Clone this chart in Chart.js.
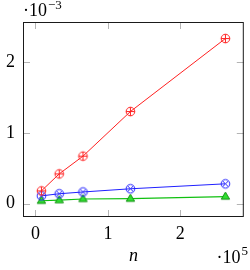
<!DOCTYPE html>
<html><head><meta charset="utf-8">
<script src="https://cdn.jsdelivr.net/npm/chart.js@4/dist/chart.umd.min.js"></script>
<style>html,body{margin:0;padding:0;background:#fff}#wrap{width:250px;height:270px;position:relative}</style>
</head><body><div id="wrap"><canvas id="c" width="250" height="270"></canvas></div>
<script>
// ---- data ----
const nValues = [8192, 32768, 65536, 131072, 262144];
const redSeries = [0.00018, 0.00042, 0.00067, 0.00130, 0.00233];
const blueSeries = [0.00011, 0.00014, 0.000165, 0.00021, 0.00028];
const greenSeries = [0.000041, 0.00005, 0.000066, 0.00007, 0.00010];
const xTickValues = [0, 100000, 200000];
const yTickValues = [0, 0.001, 0.002];
const xTickLabels = ['0', '1', '2'];
const yTickLabels = ['0', '1', '2'];
const xAxisTitle = 'n';
const xMultiplierExp = '5';
const yMultiplierExp = '\u22123';

const SERIF = "'Liberation Serif', 'DejaVu Serif', serif";

function makeMarker(kind, stroke, fill) {
  const s = 13, m = 6.5, r = 4.3;
  const c = document.createElement('canvas');
  c.width = s; c.height = s;
  const g = c.getContext('2d');
  g.strokeStyle = stroke; g.lineWidth = 1;
  if (kind === 'oplus' || kind === 'otimes') {
    g.beginPath(); g.arc(m, m, r, 0, Math.PI * 2); g.stroke();
    g.beginPath();
    if (kind === 'oplus') {
      g.moveTo(m - r, m); g.lineTo(m + r, m);
      g.moveTo(m, m - r); g.lineTo(m, m + r);
    } else {
      const d = r * Math.SQRT1_2;
      g.moveTo(m - d, m - d); g.lineTo(m + d, m + d);
      g.moveTo(m - d, m + d); g.lineTo(m + d, m - d);
    }
    g.stroke();
  } else {
    g.fillStyle = fill;
    g.beginPath();
    g.moveTo(m, m - 4.5); g.lineTo(m - 4.2, m + 2.6); g.lineTo(m + 4.2, m + 2.6); g.closePath();
    g.fill(); g.stroke();
  }
  return c;
}

function toPoints(ys) { return nValues.map((x, i) => ({x: x, y: ys[i]})); }

const tickPlugin = {
  id: 'pgfTicks',
  beforeDatasetsDraw(chart) {
    const ctx = chart.ctx, a = chart.chartArea;
    const xs = chart.scales.x, ys = chart.scales.y;
    const L = 7;
    ctx.save();
    ctx.strokeStyle = '#b4b4b4'; ctx.lineWidth = 1;
    ctx.beginPath();
    xTickValues.forEach(v => {
      const px = Math.round(xs.getPixelForValue(v)) + 0.5;
      ctx.moveTo(px, a.bottom); ctx.lineTo(px, a.bottom - L);
      ctx.moveTo(px, a.top); ctx.lineTo(px, a.top + L);
    });
    yTickValues.forEach(v => {
      const py = Math.round(ys.getPixelForValue(v)) + 0.5;
      ctx.moveTo(a.left, py); ctx.lineTo(a.left + L, py);
      ctx.moveTo(a.right, py); ctx.lineTo(a.right - L, py);
    });
    ctx.stroke();
    ctx.restore();
  },
  afterDraw(chart) {
    const ctx = chart.ctx, a = chart.chartArea;
    ctx.save();
    ctx.strokeStyle = '#1a1a1a'; ctx.lineWidth = 1;
    ctx.strokeRect(a.left + 0.5, a.top + 0.5, a.right - a.left - 1, a.bottom - a.top - 1);
    ctx.fillStyle = '#000';
    ctx.textBaseline = 'alphabetic';
    // y multiplier (top-left)
    ctx.textAlign = 'left';
    ctx.font = '18px ' + SERIF;
    const base = '\u00B710';
    ctx.fillText(base, 23, 16);
    let w = ctx.measureText(base).width;
    ctx.font = '13px ' + SERIF;
    ctx.fillText(yMultiplierExp, 23 + w + 1, 9);
    // x multiplier (bottom-right)
    ctx.font = '13px ' + SERIF;
    const ew = ctx.measureText(xMultiplierExp).width;
    ctx.fillText(xMultiplierExp, 248 - ew, 255);
    ctx.font = '18px ' + SERIF;
    const bw = ctx.measureText(base).width;
    ctx.fillText(base, 248 - ew - 1 - bw, 263);
    ctx.restore();
  }
};

new Chart(document.getElementById('c'), {
  type: 'scatter',
  data: {
    datasets: [
      {data: toPoints(redSeries), showLine: true, borderColor: '#ff2020', borderWidth: 1,
       pointStyle: makeMarker('oplus', '#ff2020'), pointRadius: 5},
      {data: toPoints(blueSeries), showLine: true, borderColor: '#2020ff', borderWidth: 1,
       pointStyle: makeMarker('otimes', '#2020ff'), pointRadius: 5},
      {data: toPoints(greenSeries), showLine: true, borderColor: '#10c010', borderWidth: 1.2,
       pointStyle: makeMarker('tri', '#109010', '#30e030'), pointRadius: 5}
    ]
  },
  options: {
    responsive: false,
    animation: false,
    devicePixelRatio: 1,
    layout: {padding: {top: 22, right: 1, left: 0, bottom: 0}},
    plugins: {legend: {display: false}, tooltip: {enabled: false}},
    scales: {
      x: {
        type: 'linear', min: -17203, max: 287539,
        grid: {display: false, drawTicks: false, tickLength: 0},
        border: {display: false},
        afterBuildTicks: s => { s.ticks = xTickValues.map(v => ({value: v})); },
        ticks: {
          callback: (v) => xTickLabels[xTickValues.indexOf(v)],
          font: {family: SERIF, size: 18}, color: '#000', padding: 6,
          maxRotation: 0, autoSkip: false
        },
        title: {display: true, text: xAxisTitle, color: '#000',
          font: {family: SERIF, size: 18, style: 'italic'}, padding: {top: 0, bottom: 3}},
        afterFit: s => { s.height = 53; }
      },
      y: {
        type: 'linear', min: -0.000188, max: 0.002563,
        grid: {display: false, drawTicks: false, tickLength: 0},
        border: {display: false},
        afterBuildTicks: s => { s.ticks = yTickValues.map(v => ({value: v})); },
        ticks: {
          callback: (v) => yTickLabels[yTickValues.indexOf(v)],
          font: {family: SERIF, size: 18}, color: '#000', padding: 8,
          autoSkip: false
        },
        afterFit: s => { s.width = 23; }
      }
    }
  },
  plugins: [tickPlugin]
});
</script>
</body></html>
